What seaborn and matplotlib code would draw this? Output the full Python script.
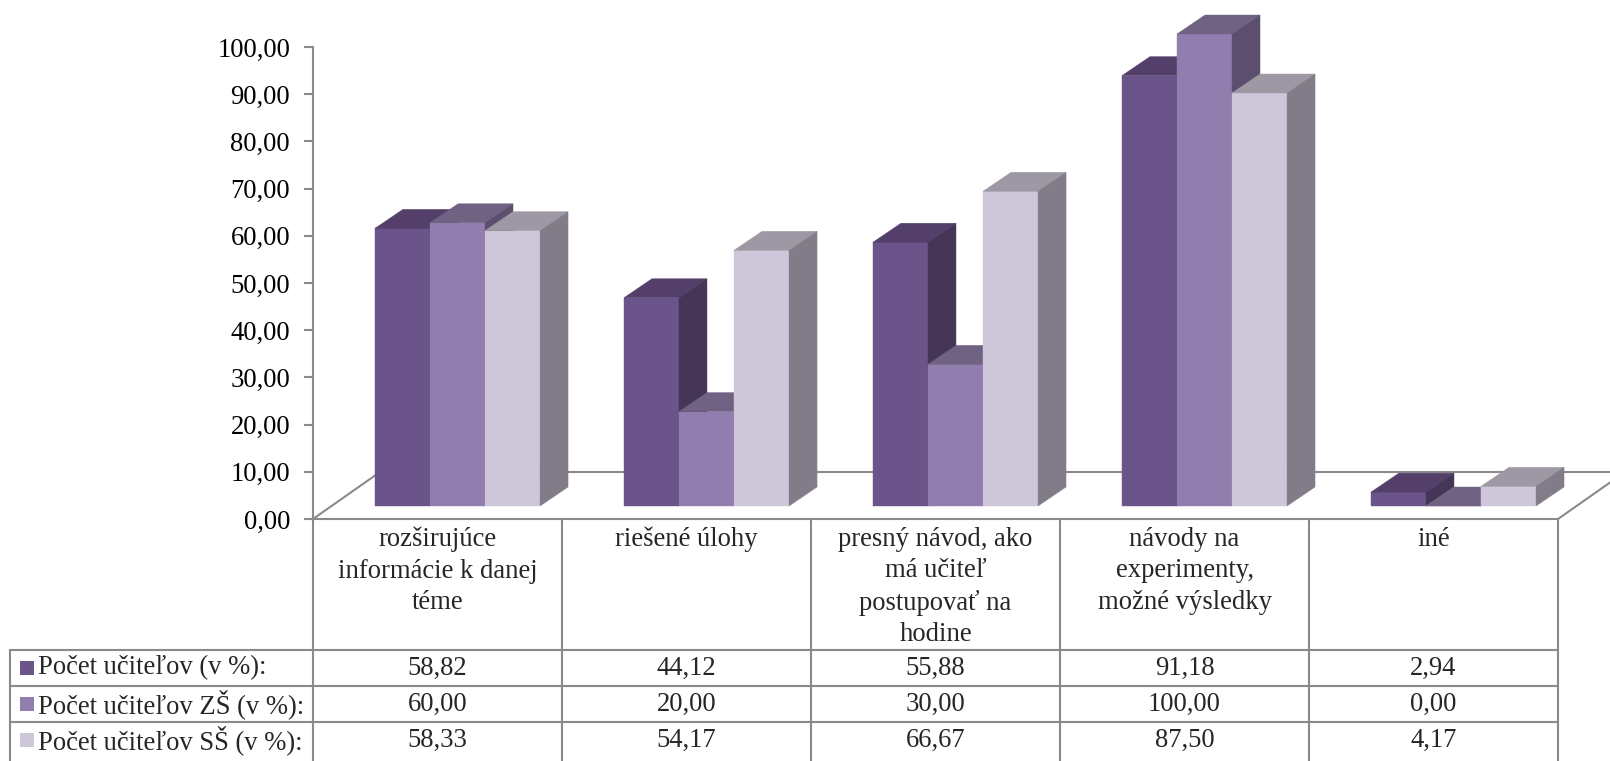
import numpy as np
import pandas as pd
import matplotlib
matplotlib.use("Agg")
import matplotlib.pyplot as plt
import seaborn as sns
from matplotlib.patches import Polygon, Rectangle
from matplotlib.lines import Line2D
from matplotlib import transforms as mtrans

# ---------------- data ----------------
categories = ["rozširujúce\ninformácie k danej\ntéme",
              "riešené úlohy",
              "presný návod, ako\nmá učiteľ\npostupovať na\nhodine",
              "návody na\nexperimenty,\nmožné výsledky",
              "iné"]
series = ["Počet učiteľov (v %):", "Počet učiteľov ZŠ (v %):", "Počet učiteľov SŠ (v %):"]
vals_all = [58.82, 44.12, 55.88, 91.18, 2.94]
vals_zs = [60.00, 20.00, 30.00, 100.00, 0.00]
vals_ss = [58.33, 54.17, 66.67, 87.50, 4.17]
yticks = [0, 10, 20, 30, 40, 50, 60, 70, 80, 90, 100]

front_colors = ["#6B5489", "#917DAE", "#CEC7D9"]
top_colors = ["#533F69", "#706283", "#9D98A4"]
side_colors = ["#453557", "#5C4F6E", "#827C88"]
GRAY = "#8A8A8A"

def fmt(v):
    return f"{v:.2f}".replace(".", ",")

df = pd.DataFrame({
    "kategória": categories * 3,
    "séria": [s for s in series for _ in categories],
    "hodnota": vals_all + vals_zs + vals_ss,
})

# ---------------- style ----------------
sns.set_style("white")
plt.rcParams["font.family"] = ["Liberation Serif", "DejaVu Serif"]
FS = 19.2

W, H = 1610, 761
fig = plt.figure(figsize=(W / 100, H / 100), dpi=100)

def fx(x):
    return x / W

def fy(y):
    return 1 - y / H

AX_L, AX_R, AX_T, AX_B = 313, 1558, 47, 519
ax = fig.add_axes([fx(AX_L), fy(AX_B), (AX_R - AX_L) / W, (AX_B - AX_T) / H])
bx = fig.add_axes([fx(AX_L + 20), fy(AX_B - 13), (AX_R - AX_L) / W, (AX_B - AX_T) / H])

px_x = (AX_R - AX_L) / len(categories)   # px per category unit
px_y = (AX_B - AX_T) / 100.0             # px per value unit

# ---------------- main axis (value axis + floor) ----------------
ax.set_xlim(-0.5, len(categories) - 0.5)
ax.set_ylim(0, 100)
ax.patch.set_alpha(0)
for s in ["top", "right"]:
    ax.spines[s].set_visible(False)
for s in ["left", "bottom"]:
    ax.spines[s].set_color(GRAY)
    ax.spines[s].set_linewidth(1.5)
ax.set_xticks([])
ax.set_yticks(yticks)
ax.set_yticklabels([fmt(v) for v in yticks])
ax.tick_params(axis="y", length=6.5, width=1.5, color=GRAY, pad=10,
               labelsize=FS, labelcolor="black", left=True)

fdx = 67 / px_x
fdy = 47 / px_y
x0, x1 = -0.5, len(categories) - 0.5
for (xa, ya), (xb, yb) in [((x0 + fdx, fdy), (x1 + fdx, fdy)),
                           ((x0, 0), (x0 + fdx, fdy)),
                           ((x1, 0), (x1 + fdx, fdy))]:
    ax.add_line(Line2D([xa, xb], [ya, yb], color=GRAY, lw=1.5, clip_on=False, zorder=1))

# ---------------- bars ----------------
sns.barplot(data=df, x="kategória", y="hodnota", hue="séria",
            order=categories, hue_order=series, palette=front_colors,
            saturation=1, width=0.663, errorbar=None, legend=False,
            linewidth=0, ax=bx)
bx.set_xlim(-0.5, len(categories) - 0.5)
bx.set_ylim(0, 100)
bx.axis("off")
bx.patch.set_alpha(0)

ddx = 28 / px_x
ddy = 19 / px_y
rects = [p for p in bx.patches if isinstance(p, Rectangle)]
nc = len(categories)
info = []
for k, r in enumerate(rects):
    hue_idx = k // nc
    info.append((r.get_x(), hue_idx, r))
info.sort(key=lambda t: t[0])
for rank, (_, hi, r) in enumerate(info):
    z = 2 + rank * 0.01
    r.set_zorder(z)
    r.set_edgecolor(front_colors[hi])
    r.set_linewidth(0.3)
    xa = r.get_x()
    xb = xa + r.get_width()
    h = r.get_height()
    topp = Polygon([(xa, h), (xa + ddx, h + ddy), (xb + ddx, h + ddy), (xb, h)],
                   closed=True, facecolor=top_colors[hi], edgecolor=top_colors[hi],
                   lw=0.3, zorder=z, clip_on=False)
    sidep = Polygon([(xb, 0), (xb + ddx, ddy), (xb + ddx, h + ddy), (xb, h)],
                    closed=True, facecolor=side_colors[hi], edgecolor=side_colors[hi],
                    lw=0.3, zorder=z, clip_on=False)
    bx.add_patch(topp)
    bx.add_patch(sidep)
    r.set_clip_on(False)

# ---------------- data table ----------------
col_tr = mtrans.blended_transform_factory(ax.transData, fig.transFigure)
row_lines = [650, 686, 722]
row_centers = [668, 704, 740]
TBL_L = 10
for i in range(len(categories) + 1):
    fig.add_artist(Line2D([i - 0.5, i - 0.5], [fy(AX_B), fy(H + 2)],
                          transform=col_tr, color=GRAY, lw=1.5))
for yl in row_lines:
    fig.add_artist(Line2D([fx(TBL_L), fx(AX_R)], [fy(yl), fy(yl)],
                          transform=fig.transFigure, color=GRAY, lw=1.5))
fig.add_artist(Line2D([fx(TBL_L), fx(TBL_L)], [fy(row_lines[0]), fy(H + 2)],
                      transform=fig.transFigure, color=GRAY, lw=1.5))

for i, cat in enumerate(categories):
    fig.text(i, fy(527), cat, transform=col_tr, ha="center", va="top",
             fontsize=FS, linespacing=1.33, multialignment="center")

for s_i, (name, vals) in enumerate(zip(series, [vals_all, vals_zs, vals_ss])):
    yc = row_centers[s_i]
    fig.add_artist(Rectangle((fx(20), fy(yc + 7)), 14 / W, 14 / H,
                             transform=fig.transFigure, facecolor=front_colors[s_i],
                             edgecolor="none"))
    fig.text(fx(38), fy(yc), name, ha="left", va="center", fontsize=FS)
    for i, v in enumerate(vals):
        fig.text(i, fy(yc), fmt(v), transform=col_tr, ha="center", va="center",
                 fontsize=FS)

fig.savefig("out.png", dpi=100)
